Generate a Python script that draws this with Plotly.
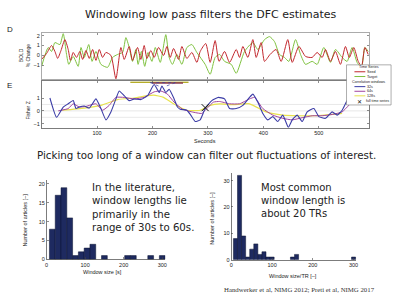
import plotly.graph_objects as go

W, H = 400, 300

# ---------------- Panel D: BOLD time series ----------------
seed_t = [0, 9, 18, 24, 29, 35, 42, 48, 52, 57, 63, 69, 74, 80, 86, 92, 98, 104, 110, 116,
          125, 134, 143, 149, 158, 164, 173, 179, 185, 190, 197, 203, 211, 220, 226, 232, 238,
          247, 253, 262, 271, 280, 286, 296, 304, 313, 320, 330, 339, 351, 357, 363, 372, 381,
          387, 396, 402, 412, 423, 432, 444, 452, 464, 476, 488, 497, 506, 512, 521, 530, 539,
          548, 555, 563, 571, 577, 583, 589]
seed_v = [-0.4, 0.2, 1.0, 0.4, -0.3, 0.5, 1.6, 0.6, -0.5, 0.3, -0.2, 0.4, -0.4, 0.5, -0.3,
          0.6, -0.5, 0.6, -0.2, 0.3, 0.0, -2.35, 0.8, -0.4, 0.9, -0.5, 0.8, -0.4, 1.0, -0.3,
          0.5, -0.2, 0.8, 0.0, 0.9, -0.2, 0.7, -0.4, 0.9, -0.3, 0.3, -0.7, 0.4, 1.2, -0.7,
          1.5, -0.6, 0.4, -0.7, 0.6, -0.2, 0.9, -0.2, 1.6, -0.2, 1.3, -0.6, 0.1, 0.6, -0.6,
          1.6, -0.7, 0.9, -0.1, -0.2, 0.3, -0.2, 0.6, -0.6, 0.4, -0.9, 0.9, -0.2, 0.8, -0.6,
          -1.1, 0.8, 0.1]
target_t = [0, 12, 18, 24, 33, 39, 45, 49, 57, 66, 71, 77, 85, 91, 98, 107, 119, 128, 137,
            146, 152, 158, 164, 170, 174, 180, 186, 192, 199, 205, 214, 224, 230, 236, 244,
            253, 262, 271, 280, 295, 304, 313, 321, 330, 342, 351, 366, 381, 390, 402, 411,
            420, 429, 438, 446, 458, 467, 476, 488, 497, 509, 521, 530, 542, 551, 560, 569,
            577, 583, 589]
target_v = [-1.1, 0.8, 0.4, 1.3, 1.1, 2.2, 0.1, -0.9, -0.1, -1.1, 0.8, -0.2, 1.1, -0.6, 0.4,
            -0.9, -1.2, -0.2, 0.1, 0.3, 1.8, 0.8, -0.6, 0.6, -0.9, 0.4, -1.1, 0.3, -0.6, 0.8,
            -0.7, 2.1, -0.2, -0.9, 0.1, -0.9, 0.8, 1.1, 0.3, -0.9, -1.9, -0.2, 0.1, -0.6, -0.9,
            -1.8, 0.4, 1.3, 0.6, 1.6, 1.9, 1.4, 0.1, -0.2, -0.6, 1.6, 0.1, -0.9, -0.6, -0.9,
            0.8, -0.7, 0.6, -0.2, -0.6, 0.8, -0.7, -1.2, 0.8, 0.4]

# ---------------- Panel E: windowed correlations (Fisher Z) ----------------
w32_t = [15, 27, 39, 48, 57, 62, 68, 77, 86, 98, 107, 116, 125, 134, 140, 149, 158, 167, 179,
         191, 203, 212, 217, 224, 230, 239, 245, 250, 262, 269, 277, 286, 295, 307, 319, 330,
         339, 351, 363, 375, 381, 390, 399, 408, 417, 426, 435, 445, 452, 461, 470, 479, 491,
         500, 512, 524, 533, 542, 551, 560, 566, 574]
w32_v = [1.0, -0.5, 0.3, 0.55, 0.8, 0.18, 0.3, 0.38, 0.22, 0.93, 0.18, -0.7, -0.08, 0.93, 1.55,
         1.18, 0.8, 0.93, 0.88, 1.18, 2.05, 1.43, 1.93, 1.43, 1.68, 0.93, 0.3, 0.13, 0.05,
         -0.33, -0.83, -0.7, 0.18, 0.8, 1.05, 0.93, 0.18, 0.18, 0.43, 1.05, 1.3, 0.68, -0.2,
         -0.7, -0.45, -0.83, -0.33, -1.28, -0.7, -0.33, -0.83, -0.08, 0.18, -0.45, -0.58,
         -0.08, -0.33, 0.05, 0.8, 1.18, 1.3, 0.68]
w64_t = [30, 48, 57, 68, 80, 98, 110, 122, 134, 149, 167, 185, 203, 215, 227, 239, 254, 271,
         289, 295, 310, 321, 339, 357, 375, 384, 399, 417, 435, 452, 470, 488, 506, 524, 542,
         554, 563]
w64_v = [0.0, 0.18, 0.55, 0.3, 0.35, 0.55, 0.05, 0.43, 1.05, 1.05, 0.93, 1.05, 1.48, 1.55,
         1.3, 0.68, 0.13, -0.08, -0.2, 0.05, 0.68, 0.73, 0.55, 0.55, 0.93, 1.05, 0.18, -0.33,
         -0.58, -0.7, -0.53, -0.38, -0.38, -0.28, -0.08, 0.43, 0.93]
w128_t = [36, 77, 107, 137, 167, 191, 202, 220, 238, 262, 286, 304, 321, 345, 375, 405, 435,
          464, 494, 524, 542]
w128_v = [0.05, 0.22, 0.43, 0.88, 1.0, 1.18, 1.23, 1.05, 0.55, 0.05, 0.05, 0.43, 0.55, 0.48,
          0.55, -0.08, -0.33, -0.38, -0.38, -0.28, -0.2]
full_t = [295]
full_v = [0.25]
# window illustration at top of panel E
win128_t = [160, 265]
win128_v = [2.22, 2.22]
win64_t = [200, 255]
win64_v = [2.16, 2.16]
funnel_t = [196, 213, None, 241, 223, None, 196, 241]
funnel_v = [2.2, 1.9, None, 2.2, 1.9, None, 2.2, 2.2]

# ---------------- Histograms ----------------
lit_centers = [15, 30, 45, 60, 75, 90, 105, 120, 150, 210, 225, 270, 300]
lit_counts = [8, 17, 19, 11, 1, 2, 3, 4, 1, 1, 1, 1, 1]
tr_centers = [10, 20, 30, 40, 50, 60, 70, 80, 90, 100, 150, 160, 300]
tr_counts = [8, 32, 9, 1, 4, 6, 2, 3, 1, 1, 1, 2, 1]

lit_yticks = [0, 5, 10, 15, 20]
tr_yticks = [0, 10, 20, 30]
hist_xticks = [0, 100, 200, 300]
sec_ticks = [100, 200, 300, 400, 500]

RED = "#c1272d"
GREEN = "#7fc13f"
BLUE = "#3b3ca6"
PURPLE = "#a2449e"
YELLOW = "#e8e24e"
NAVY = "#1e2a60"


def X(p):
    return p / W


def Y(p):
    return 1 - p / H


fig = go.Figure()
spD = dict(shape="spline", smoothing=0.6)
spE = dict(shape="spline", smoothing=0.45)
fig.add_trace(go.Scatter(x=target_t, y=target_v, mode="lines", line=dict(color=GREEN, width=1, **spD),
                         xaxis="x", yaxis="y"))
fig.add_trace(go.Scatter(x=seed_t, y=seed_v, mode="lines", line=dict(color=RED, width=1, **spD),
                         xaxis="x", yaxis="y"))
fig.add_trace(go.Scatter(x=w128_t, y=w128_v, mode="lines", line=dict(color=YELLOW, width=1.2, **spE),
                         xaxis="x2", yaxis="y2"))
fig.add_trace(go.Scatter(x=w64_t, y=w64_v, mode="lines", line=dict(color=PURPLE, width=1, **spE),
                         xaxis="x2", yaxis="y2"))
fig.add_trace(go.Scatter(x=w32_t, y=w32_v, mode="lines", line=dict(color=BLUE, width=1.1, **spE),
                         xaxis="x2", yaxis="y2"))
fig.add_trace(go.Scatter(x=full_t, y=full_v, mode="markers",
                         marker=dict(symbol="x-thin", size=7, line=dict(color="#111", width=1)),
                         xaxis="x2", yaxis="y2"))
fig.add_trace(go.Scatter(x=win128_t, y=win128_v, mode="lines", line=dict(color="#b5ad2a", width=1.5),
                         xaxis="x2", yaxis="y2"))
fig.add_trace(go.Scatter(x=win64_t, y=win64_v, mode="lines", line=dict(color="#8a3a50", width=1.5),
                         xaxis="x2", yaxis="y2"))
fig.add_trace(go.Scatter(x=funnel_t, y=funnel_v, mode="lines",
                         line=dict(color=BLUE, width=0.7, dash="dot"), xaxis="x2", yaxis="y2"))

fig.add_trace(go.Bar(x=lit_centers, y=lit_counts, width=15,
                     marker=dict(color=NAVY, line=dict(color="#0b1230", width=0.5)),
                     xaxis="x3", yaxis="y3"))
fig.add_trace(go.Bar(x=tr_centers, y=tr_counts, width=10,
                     marker=dict(color=NAVY, line=dict(color="#0b1230", width=0.5)),
                     xaxis="x4", yaxis="y4"))

tickfont = dict(family="Liberation Sans, Arial", size=5.5, color="#222")
base = dict(showline=True, linecolor="#444", linewidth=0.7, ticks="inside", ticklen=2,
            tickcolor="#444", tickwidth=0.6, showgrid=False, zeroline=False, tickfont=tickfont,
            fixedrange=True)

fig.update_layout(
    width=W, height=H, autosize=False, margin=dict(l=0, r=0, t=0, b=0),
    paper_bgcolor="white", plot_bgcolor="white", showlegend=False, bargap=0,
    hovermode=False,
    xaxis=dict(base, domain=[X(40), X(371)], range=[0, 591], tickvals=sec_ticks,
               showticklabels=False, mirror="ticks", anchor="y", linecolor="#888"),
    yaxis=dict(base, domain=[Y(80), Y(33)], range=[-2.4, 2.3], tickvals=[-1, 0, 1, 2],
               mirror="ticks", anchor="x", linecolor="#888"),
    xaxis2=dict(base, domain=[X(40), X(371)], range=[0, 591], tickvals=sec_ticks,
                mirror="ticks", anchor="y2"),
    yaxis2=dict(base, domain=[Y(129), Y(82)], range=[-1.31, 2.31], tickvals=[-1, 0, 1],
                mirror="ticks", anchor="x2"),
    xaxis3=dict(base, domain=[X(45), X(165)], range=[0, 308], tickvals=hist_xticks, anchor="y3"),
    yaxis3=dict(base, domain=[Y(262), Y(182)], range=[0, 21], tickvals=lit_yticks, anchor="x3"),
    xaxis4=dict(base, domain=[X(231.7), X(358)], range=[0, 307], tickvals=hist_xticks, anchor="y4"),
    yaxis4=dict(base, domain=[Y(262.3), Y(174.5)], range=[0, 33], tickvals=tr_yticks, anchor="x4"),
)

# light reference lines in panel E
for lv in [0.5, 0, -0.5]:
    fig.add_shape(type="line", xref="x2", yref="y2", x0=0, x1=591, y0=lv, y1=lv,
                  line=dict(color="#d8d8d8", width=0.6), layer="below")

ann = []


def text(x, y, s, size, family="DejaVu Sans", color="#222", xa="center", ya="middle", angle=0, align="center"):
    ann.append(dict(x=X(x), y=Y(y), xref="paper", yref="paper", text=s, showarrow=False,
                    font=dict(family=family, size=size, color=color), xanchor=xa, yanchor=ya,
                    textangle=angle, align=align, borderpad=0))


text(211, 15, "Windowing low pass filters the DFC estimates", 11)
text(8, 30, "D", 8, family="Liberation Sans")
text(8, 86, "E", 8, family="Liberation Sans")
text(23, 56, "BOLD<br>% Change", 5, family="Liberation Sans", angle=-90)
text(26, 112, "Fisher Z", 5, family="Liberation Sans", angle=-90)
text(205, 142, "Seconds", 5.5, family="Liberation Sans")
text(207, 157, "Picking too long of a window can filter out fluctuations of interest.", 10.3)
text(90, 183, "In the literature,<br>window lengths lie<br>primarily in the<br>range of 30s to 60s.",
     10.2, xa="left", ya="top", align="left")
text(261, 183, "Most common<br>window length is<br>about 20 TRs", 10, xa="left", ya="top", align="left")
text(23, 222, "Number of articles [–]", 5.5, family="Liberation Sans", angle=-90)
text(102, 275, "Window size [s]", 5.5, family="Liberation Sans")
text(212, 220, "Number of articles [–]", 5.5, family="Liberation Sans", angle=-90)
text(294, 279, "Window size/TR [–]", 5.5, family="Liberation Sans")
text(300, 292, "Handwerker et al, NIMG 2012; Preti et al, NIMG 2017", 6.8,
     family="Liberation Serif, Times New Roman", color="#333")

# manual legend box for panels D/E
fig.add_shape(type="rect", xref="paper", yref="paper", x0=X(348), x1=X(393), y0=Y(106), y1=Y(65.5),
              line=dict(color="#777", width=0.6), fillcolor="white")
leg_items = [(67.7, None, "Time Series", True), (72.5, RED, "Seed", False), (77.3, GREEN, "Target", False),
             (82.5, None, "Correlation windows", True), (87.5, BLUE, "32s", False),
             (92.2, PURPLE, "64s", False), (96.8, YELLOW, "128s", False)]
for yy, col, lab, header in leg_items:
    if header:
        text(370.5, yy, lab, 3.7, family="Liberation Sans", color="#222")
    else:
        fig.add_shape(type="line", xref="paper", yref="paper", x0=X(356), x1=X(367), y0=Y(yy), y1=Y(yy),
                      line=dict(color=col, width=1))
        text(368, yy, lab, 3.7, family="Liberation Sans", xa="left")
text(361.5, 102.5, "✕", 6, family="DejaVu Sans", color="#111")
text(367, 102.5, "full time series", 3.6, family="Liberation Sans", xa="left")

fig.update_layout(annotations=ann)
fig.write_html("out.html", config={"displayModeBar": False, "staticPlot": True},
               post_script="document.body.style.margin='0';document.body.style.padding='0';")
